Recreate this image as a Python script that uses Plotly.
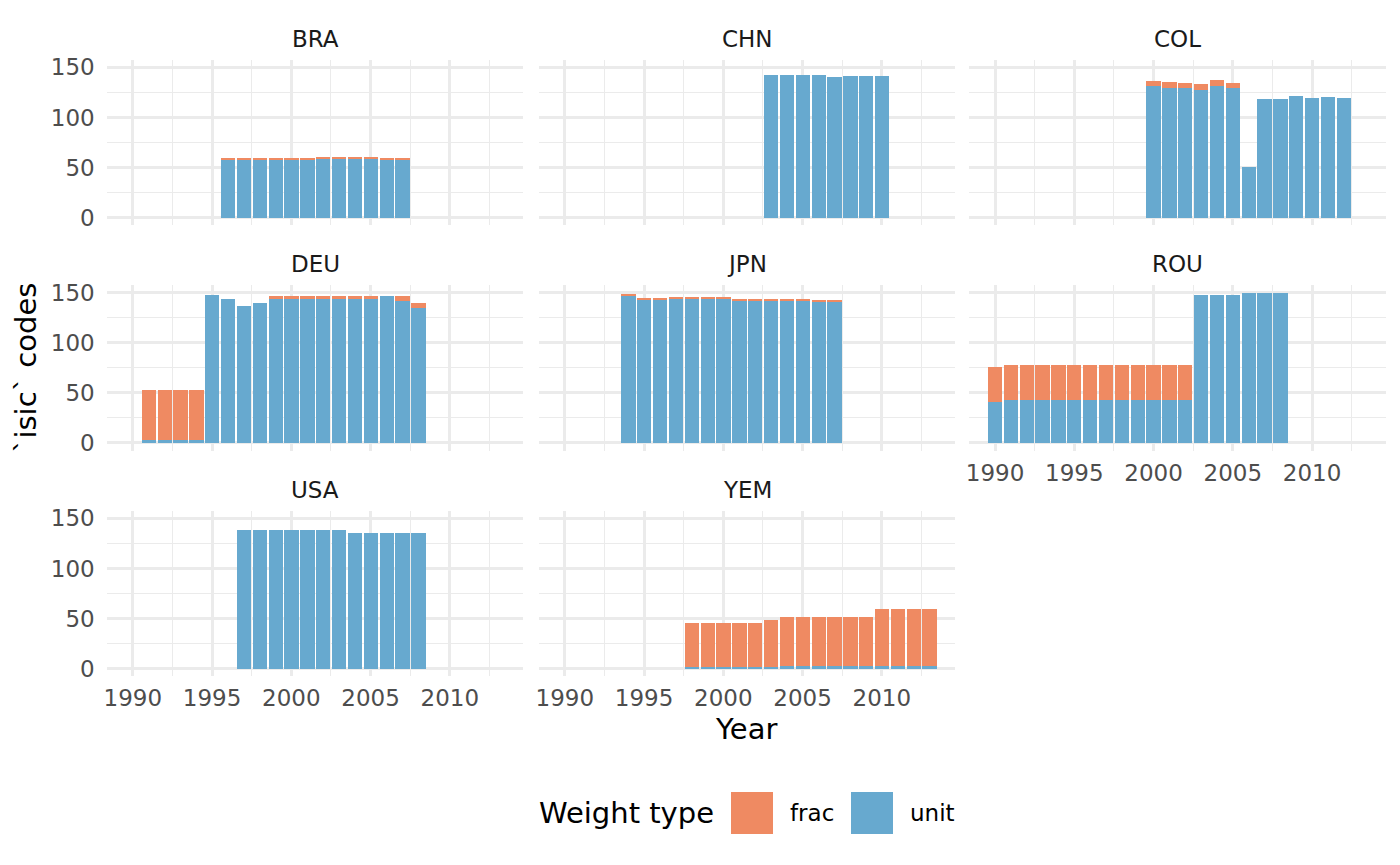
import plotly.graph_objects as go

# ---------------- data ----------------
countries = ["BRA", "CHN", "COL", "DEU", "JPN", "ROU", "USA", "YEM"]

years_bra = list(range(1996, 2008))
unit_bra = [58, 58, 58, 58, 58, 58, 59, 59, 59, 59, 58, 58]
frac_bra = [2, 2, 2, 2, 2, 2, 2, 2, 2, 2, 2, 2]

years_chn = list(range(2003, 2011))
unit_chn = [143, 143, 143, 143, 141, 142, 142, 142]
frac_chn = [0, 0, 0, 0, 0, 0, 0, 0]

years_col = list(range(2000, 2013))
unit_col = [132, 130, 130, 128, 132, 130, 51, 119, 119, 122, 120, 121, 120]
frac_col = [5, 6, 5, 6, 6, 5, 0, 0, 0, 0, 0, 0, 0]

years_deu = list(range(1991, 2009))
unit_deu = [3, 3, 3, 3, 148, 144, 137, 140, 144, 144, 144, 144, 144, 144, 144, 147, 142, 135]
frac_deu = [50, 50, 50, 50, 0, 0, 0, 0, 3, 3, 3, 3, 3, 3, 3, 0, 5, 5]

years_jpn = list(range(1994, 2008))
unit_jpn = [147, 143, 143, 144, 144, 144, 144, 142, 142, 142, 142, 142, 141, 141]
frac_jpn = [2, 2, 2, 2, 2, 2, 2, 2, 2, 2, 2, 2, 2, 2]

years_rou = list(range(1990, 2009))
unit_rou = [41, 43, 43, 43, 43, 43, 43, 43, 43, 43, 43, 43, 43, 148, 148, 148, 150, 150, 150]
frac_rou = [35, 35, 35, 35, 35, 35, 35, 35, 35, 35, 35, 35, 35, 0, 0, 0, 0, 0, 0]

years_usa = list(range(1997, 2009))
unit_usa = [139, 139, 139, 139, 139, 139, 139, 136, 136, 136, 136, 136]
frac_usa = [0, 0, 0, 0, 0, 0, 0, 0, 0, 0, 0, 0]

years_yem = list(range(1998, 2014))
unit_yem = [2, 2, 2, 2, 2, 2, 3, 3, 3, 3, 3, 3, 3, 3, 3, 3]
frac_yem = [44, 44, 44, 44, 44, 47, 49, 49, 49, 49, 49, 49, 57, 57, 57, 57]

x_ticks = [1990, 1995, 2000, 2005, 2010]
y_ticks = [0, 50, 100, 150]
weight_types = ["frac", "unit"]

panels = {
    "BRA": (years_bra, unit_bra, frac_bra),
    "CHN": (years_chn, unit_chn, frac_chn),
    "COL": (years_col, unit_col, frac_col),
    "DEU": (years_deu, unit_deu, frac_deu),
    "JPN": (years_jpn, unit_jpn, frac_jpn),
    "ROU": (years_rou, unit_rou, frac_rou),
    "USA": (years_usa, unit_usa, frac_usa),
    "YEM": (years_yem, unit_yem, frac_yem),
}

# ---------------- style ----------------
W, H = 1400, 865
FONT = "DejaVu Sans"
C_UNIT = "#67A9CF"
C_FRAC = "#EF8A62"
GRID = "#EBEBEB"
TICK_SIZE = 23
TITLE_SIZE = 29

col_px = [(106.7, 523.4), (538.7, 955.4), (969.0, 1385.7)]
row_px = [(59.9, 225.2), (285.2, 450.5), (510.9, 676.2)]
x_range = [1988.355, 2014.645]
y_range = [-7.5, 157.5]


def fx(p):
    return p / W


def fy(p):
    return 1 - p / H


fig = go.Figure()
layout = dict(
    width=W, height=H,
    margin=dict(l=0, r=0, t=0, b=0),
    paper_bgcolor="white", plot_bgcolor="white",
    barmode="stack", bargap=0,
    showlegend=False,
    font=dict(family=FONT, color="#4D4D4D", size=TICK_SIZE),
)

annotations = []
shapes = []

for i, cc in enumerate(countries):
    r, c = divmod(i, 3)
    n = i + 1
    xs = "x" if n == 1 else f"x{n}"
    ys = "y" if n == 1 else f"y{n}"
    yrs, unit, frac = panels[cc]
    fig.add_trace(go.Bar(x=yrs, y=unit, width=0.9, marker=dict(color=C_UNIT, line=dict(width=0)),
                         name="unit", xaxis=xs, yaxis=ys, hoverinfo="x+y+name"))
    fig.add_trace(go.Bar(x=yrs, y=frac, width=0.9, marker=dict(color=C_FRAC, line=dict(width=0)),
                         name="frac", xaxis=xs, yaxis=ys, hoverinfo="x+y+name"))
    x0, x1 = col_px[c]
    y0, y1 = row_px[r]
    show_x = (r == 2) or (c == 2 and r == 1)
    layout["xaxis" if n == 1 else f"xaxis{n}"] = dict(
        domain=[fx(x0), fx(x1)], anchor=ys, range=x_range,
        tickmode="array", tickvals=x_ticks, ticktext=[str(t) for t in x_ticks],
        showticklabels=show_x, ticks="", showline=False, zeroline=False,
        showgrid=True, gridcolor=GRID, gridwidth=2.8,
        minor=dict(dtick=2.5, tick0=1990, showgrid=True, gridcolor=GRID, gridwidth=1.4, ticks=""),
        tickfont=dict(family=FONT, size=TICK_SIZE, color="#4D4D4D"),
        ticklabelstandoff=6,
        automargin=False, fixedrange=True,
    )
    layout["yaxis" if n == 1 else f"yaxis{n}"] = dict(
        domain=[fy(y1), fy(y0)], anchor=xs, range=y_range,
        tickmode="array", tickvals=y_ticks, ticktext=[str(t) for t in y_ticks],
        showticklabels=(c == 0), ticks="", showline=False, zeroline=False,
        showgrid=True, gridcolor=GRID, gridwidth=2.8,
        minor=dict(dtick=25, tick0=0, showgrid=True, gridcolor=GRID, gridwidth=1.4, ticks=""),
        tickfont=dict(family=FONT, size=TICK_SIZE, color="#4D4D4D"),
        ticklabelstandoff=11,
        automargin=False, fixedrange=True,
    )
    # strip label
    annotations.append(dict(
        text=cc, x=fx((x0 + x1) / 2), y=fy(y0 - 21), xref="paper", yref="paper",
        xanchor="center", yanchor="middle", showarrow=False,
        font=dict(family=FONT, size=TICK_SIZE, color="#1A1A1A"),
    ))

# axis titles
annotations.append(dict(
    text="Year", x=fx((col_px[0][0] + col_px[2][1]) / 2), y=fy(729), xref="paper", yref="paper",
    xanchor="center", yanchor="middle", showarrow=False,
    font=dict(family=FONT, size=TITLE_SIZE, color="black"),
))
annotations.append(dict(
    text="`isic` codes", x=fx(26), y=fy((row_px[0][0] + row_px[2][1]) / 2), xref="paper", yref="paper",
    xanchor="center", yanchor="middle", showarrow=False, textangle=-90,
    font=dict(family=FONT, size=TITLE_SIZE, color="black"),
))

# legend (drawn)
annotations.append(dict(
    text="Weight type", x=fx(537), y=fy(813), xref="paper", yref="paper",
    xanchor="left", yanchor="middle", showarrow=False,
    font=dict(family=FONT, size=TITLE_SIZE, color="black"),
))
key_x = [731, 851]
key_colors = [C_FRAC, C_UNIT]
for kx, kc, lab in zip(key_x, key_colors, weight_types):
    shapes.append(dict(type="rect", xref="paper", yref="paper",
                       x0=fx(kx), x1=fx(kx + 42), y0=fy(834), y1=fy(792),
                       fillcolor=kc, line=dict(width=0)))
    annotations.append(dict(
        text=lab, x=fx(kx + 57), y=fy(813), xref="paper", yref="paper",
        xanchor="left", yanchor="middle", showarrow=False,
        font=dict(family=FONT, size=TICK_SIZE, color="black"),
    ))

layout["annotations"] = annotations
layout["shapes"] = shapes
fig.update_layout(**layout)
fig.write_html(
    "out.html",
    config={"displayModeBar": False},
    post_script="document.body.style.margin='0px';document.body.style.overflow='hidden';",
)
